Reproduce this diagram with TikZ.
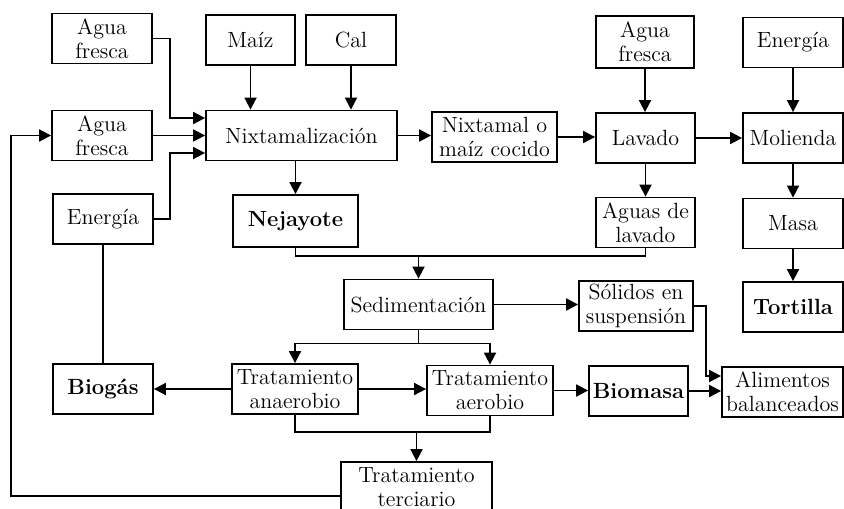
\documentclass[tikz,border=0pt]{standalone}
\usepackage{fontspec}
\usepackage{tikz}
\usetikzlibrary{arrows.meta,calc}

\begin{document}
\begin{tikzpicture}[
            x=0.5pt, y=-0.5pt,
            every node/.append style={black, font=\fontsize{11}{12}\selectfont},
            block/.style={draw, line width=0.9pt, align=center, inner sep=1pt, minimum height=25pt},
            strong/.style={block, font=\fontsize{11}{12}\selectfont\bfseries},
            flow/.style={line width=0.9pt, -{Triangle[length=6pt,width=6pt]}},
            link/.style={line width=0.9pt}
        ]
            \useasboundingbox (0,0) rectangle (844,508);
            \clip (0,0) rectangle (844,508);

            \node[block, minimum width=50pt] (aguaA) at (102,38.5) {Agua\\fresca};
            \node[block, minimum width=44.5pt] (maiz) at (250.5,40) {Maíz};
            \node[block, minimum width=45pt] (cal) at (351,40) {Cal};
            \node[block, minimum width=50pt] (aguaB) at (102,135.5) {Agua\\fresca};
            \node[block, minimum width=95.5pt] (nixt) at (301.5,135.5) {Nixtamalización};
            \node[block, minimum width=50pt] (energiaA) at (103,219) {Energía};
            \node[strong, minimum width=62.5pt, minimum height=26pt] (nejayote) at (295.5,221) {Nejayote};
            \node[block, minimum width=62.5pt] (cocido) at (494.5,137) {Nixtamal o\\maíz cocido};
            \node[block, minimum width=49pt, minimum height=26pt] (aguaC) at (645,42) {Agua\\fresca};
            \node[block, minimum width=50pt] (energiaB) at (793,42.5) {Energía};
            \node[block, minimum width=49.5pt] (lavado) at (645.5,138) {Lavado};
            \node[block, minimum width=50pt] (molienda) at (793,138) {Molienda};
            \node[block, minimum width=49.5pt] (aguasLav) at (645.5,222.5) {Aguas de\\lavado};
            \node[block, minimum width=50pt] (masa) at (793,223.5) {Masa};
            \node[block, minimum width=74.5pt] (sedim) at (418.5,304.5) {Sedimentación};
            \node[block, minimum width=57pt] (solidos) at (636,306) {Sólidos en\\suspensión};
            \node[strong, minimum width=50pt] (tortilla) at (793,307) {Tortilla};
            \node[strong, minimum width=50pt] (biogas) at (103,389) {Biogás};
            \node[block, minimum width=63pt] (anaer) at (295,389) {Tratamiento\\anaerobio};
            \node[block, minimum width=63pt] (aerob) at (490,390.5) {Tratamiento\\aerobio};
            \node[strong, minimum width=49.5pt] (biomasa) at (638.5,391) {Biomasa};
            \node[block, minimum width=60.5pt] (alim) at (782.5,392) {Alimentos\\balanceados};
            \node[block, minimum width=75.5pt] (terciario) at (416.5,487) {Tratamiento\\terciario};

            \draw[flow] (aguaA.east) -| ($(nixt.west)+(-35,-17.5)$) -- ($(nixt.west)+(0,-17.5)$);
            \draw[flow] (aguaB) -- (nixt);
            \draw[flow] (energiaA.east) -| ($(nixt.west)+(-35,17.5)$) -- ($(nixt.west)+(0,17.5)$);
            \draw[flow] (maiz.south) -- (maiz.south |- nixt.north);
            \draw[flow] (cal.south) -- (cal.south |- nixt.north);
            \draw[flow] (nejayote.north |- nixt.south) -- (nejayote.north);
            \draw[flow] (nixt.east) -- (nixt.east -| cocido.west);
            \draw[flow] (cocido.east) -- (cocido.east -| lavado.west);
            \draw[flow] (aguaC.south) -- (aguaC.south |- lavado.north);
            \draw[flow] (lavado) -- (molienda);
            \draw[flow] (energiaB) -- (molienda);
            \draw[flow] (lavado) -- (aguasLav);
            \draw[flow] (molienda) -- (masa);
            \draw[flow] (masa) -- (tortilla);

            \coordinate (j1) at ($(sedim.north)+(0,-23)$);
            \draw[link] (nejayote.south) |- (j1) -| (aguasLav.south);
            \draw[flow] (j1) -- (sedim.north);
            \draw[flow] (sedim.east) -- (sedim.east -| solidos.west);
            \coordinate (j2) at ($(sedim.south)+(0,13)$);
            \draw[link] (sedim.south) -- (j2);
            \draw[flow] (j2) -| (anaer.north);
            \draw[flow] (j2) -| (aerob.north);
            \draw[flow] (anaer) -- (biogas);
            \draw[flow] (anaer.east) -- (anaer.east -| aerob.west);
            \draw[flow] (aerob.east) -- (aerob.east -| biomasa.west);
            \draw[flow] (biomasa.east) -- (biomasa.east -| alim.west);
            \draw[flow] (solidos.east) -| ($(alim.west)+(-15,-16)$) -- ($(alim.west)+(0,-16)$);
            \coordinate (j3) at ($(terciario.north)+(0,-29)$);
            \draw[link] (anaer.south) |- (j3) -| (aerob.south);
            \draw[flow] (j3) -- (terciario.north);
            \draw[link] (biogas) -- (energiaA);
            \draw[flow] ($(terciario.west)+(0,9)$) -| ($(aguaB.west)+(-40,0)$) -- (aguaB.west);
        \end{tikzpicture}
\end{document}
